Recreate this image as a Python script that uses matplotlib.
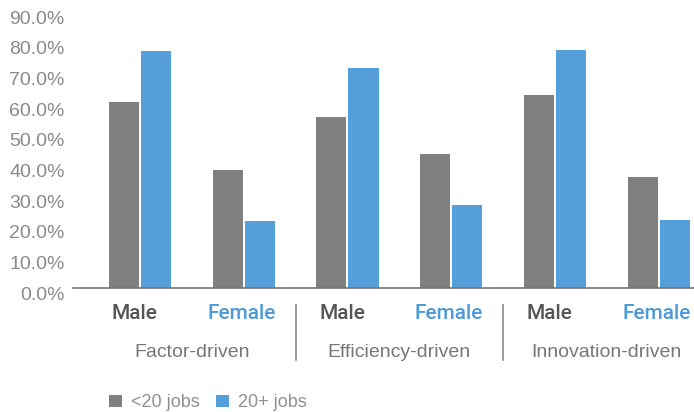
import matplotlib.pyplot as plt
import matplotlib.transforms as mtransforms
import numpy as np

groups = ["Factor-driven", "Efficiency-driven", "Innovation-driven"]
genders = ["Male", "Female"]
series_names = ["<20 jobs", "20+ jobs"]
under20 = [60.6, 38.4, 55.7, 43.6, 62.9, 36.2]
over20 = [77.2, 21.8, 71.7, 27.0, 77.5, 22.1]
yticks = np.arange(0, 91, 10)

gray = "#7f807f"
blue = "#55a0da"
font = "Liberation Sans"

W, H = 694, 412
fig = plt.figure(figsize=(W / 100, H / 100), dpi=100)
# axes placed in pixel terms: x from 73 to 694, zero line at y=288, 90% at y=12
ax = fig.add_axes([73 / W, (H - 288) / H, (W - 73) / W, 276 / H])

x = np.arange(len(under20))
bw = 0.29
ax.bar(x - bw / 2 - 0.01, under20, bw, color=gray, label=series_names[0])
ax.bar(x + bw / 2 + 0.01, over20, bw, color=blue, label=series_names[1])

ax.set_xlim(-0.645, 5.34)
ax.set_ylim(0, 90)
ax.set_yticks(yticks)
ax.set_yticklabels([f"{v:.1f}%" for v in yticks], fontsize=14, color="#8a8a8a", family=font)
ax.tick_params(axis="y", length=0, pad=6)
shift = mtransforms.ScaledTranslation(0, -5 / 100, fig.dpi_scale_trans)
for lab in ax.get_yticklabels():
    lab.set_transform(lab.get_transform() + shift)
ax.set_xticks([])
for s in ["top", "right", "left"]:
    ax.spines[s].set_visible(False)
ax.spines["bottom"].set_color("#777777")
ax.spines["bottom"].set_linewidth(1.2)

tr = ax.get_xaxis_transform()
for i in range(len(x)):
    g = genders[i % 2]
    ax.text(i - 0.05 if g == "Male" else i - 0.02, -0.094, g, transform=tr, ha="center", va="center",
            fontsize=15, fontweight="medium", color="#555555" if g == "Male" else "#4d9ad6",
            family=["Roboto", font], clip_on=False)
for j, name in enumerate(groups):
    ax.text(2 * j + 0.5, -0.232, name, transform=tr, ha="center", va="center",
            fontsize=14, color="#777777", family=font, clip_on=False)
for sep in [1.5, 3.5]:
    ax.plot([sep, sep], [-0.062, -0.261], transform=tr, color="#888888", lw=1.2, clip_on=False)

leg = fig.legend(loc="lower left", bbox_to_anchor=(93 / W, -0.038), ncol=2, frameon=False,
                 handlelength=0.7, handleheight=0.7, handletextpad=0.5, columnspacing=0.9,
                 prop={"family": font, "size": 13})
for t in leg.get_texts():
    t.set_color("#909090")

fig.savefig("out.png", dpi=100)
